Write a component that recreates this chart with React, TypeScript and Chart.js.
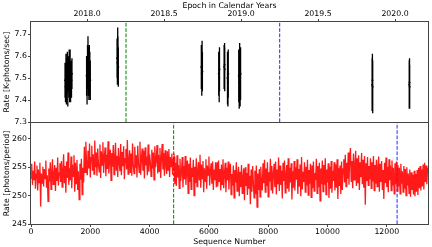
import React, { useEffect, useRef } from "react";
import { Chart, registerables } from "chart.js";
Chart.register(...registerables);

// ---------- Top panel: rate vs epoch (with error bars) ----------
const EPOCHS = [
  2017.857, 2017.860, 2017.863, 2017.866, 2017.869, 2017.872, 2017.875, 2017.878, 2017.881, 2017.884, 2017.887, 2017.890, 2017.893, 2017.896, 2017.899, 2017.902,
  2017.997, 2018.000, 2018.003, 2018.006, 2018.009, 2018.012, 2018.015, 2018.018, 2018.021,
  2018.195, 2018.197, 2018.199, 2018.201, 2018.203,
  2018.742, 2018.745, 2018.747, 2018.749,
  2018.855, 2018.858, 2018.860,
  2018.890, 2018.893, 2018.894,
  2018.912, 2018.915, 2018.917,
  2018.985, 2018.988, 2018.991, 2018.994, 2018.997,
  2019.851, 2019.853, 2019.855,
  2020.092, 2020.094, 2020.095,
];
const RATES = [
  7.49, 7.46, 7.53, 7.47, 7.51, 7.55, 7.45, 7.50, 7.52, 7.56, 7.48, 7.54, 7.47, 7.51, 7.49, 7.52,
  7.51, 7.48, 7.55, 7.59, 7.53, 7.50, 7.56, 7.52, 7.49,
  7.59, 7.57, 7.63, 7.60, 7.55,
  7.55, 7.52, 7.57, 7.53,
  7.52, 7.50, 7.54,
  7.55, 7.56, 7.54,
  7.50, 7.48, 7.52,
  7.51, 7.48, 7.54, 7.50, 7.52,
  7.47, 7.49, 7.46,
  7.47, 7.48, 7.46,
];
const ERRS = [
  0.08, 0.07, 0.08, 0.09, 0.08, 0.07, 0.08, 0.09, 0.08, 0.07, 0.09, 0.09, 0.08, 0.07, 0.08, 0.07,
  0.09, 0.10, 0.10, 0.10, 0.11, 0.10, 0.09, 0.10, 0.09,
  0.09, 0.10, 0.10, 0.09, 0.09,
  0.10, 0.10, 0.10, 0.09,
  0.10, 0.11, 0.10,
  0.10, 0.10, 0.10,
  0.12, 0.11, 0.11,
  0.12, 0.12, 0.12, 0.13, 0.12,
  0.12, 0.12, 0.12,
  0.11, 0.11, 0.10,
];
const EPOCH_TICKS = [2018.0, 2018.5, 2019.0, 2019.5, 2020.0];
const RATE_TICKS = [7.3, 7.4, 7.5, 7.6, 7.7];
const EPOCH_GREEN = 2018.253;
const EPOCH_BLUE = 2019.251;

// ---------- Bottom panel: rate vs sequence number ----------
const SEQ_STEP = 25;
const SEQ_RATES = [
  // 0 - 1775
  253.1, 255.6, 251.9, 254.4, 252.7, 256.0, 251.2, 253.8, 255.3, 250.9, 254.6, 252.3, 255.8, 248.1, 253.9, 252.2, 255.1, 251.6, 254.7, 253.0,
  256.2, 251.4, 253.6, 249.0, 254.8, 252.5, 255.9, 251.1, 254.2, 256.4, 252.0, 253.5, 255.4, 250.8, 254.9, 252.6, 256.7, 251.8, 254.0, 255.7,
  252.4, 256.1, 251.5, 254.5, 257.3, 252.2, 255.2, 250.5, 256.0, 253.1, 257.6, 251.9, 254.8, 252.7, 256.9, 251.3, 255.5, 253.4, 257.1, 250.7,
  255.8, 252.1, 256.3, 251.0, 254.3, 249.3, 255.6, 252.8, 256.5, 250.2, 254.9, 252.3,
  // 1800 - 4800
  258.6, 254.1, 259.5, 255.3, 253.6, 257.9, 254.8, 259.2, 253.2, 256.7, 258.8, 254.4, 257.3, 253.8, 259.7, 255.0, 257.6, 253.5, 258.3, 255.6,
  254.2, 259.0, 253.1, 257.8, 255.4, 259.4, 254.0, 256.9, 258.5, 253.4, 257.2, 254.7, 259.6, 253.9, 256.4, 258.1, 252.7, 257.5, 255.1, 258.9,
  253.7, 256.8, 259.3, 254.5, 257.0, 253.3, 258.4, 255.8, 254.3, 259.1, 253.6, 257.7, 255.2, 258.7, 252.9, 256.5, 258.2, 254.6, 259.8, 253.8,
  256.2, 258.0, 254.0, 257.4, 253.5, 259.2, 255.5, 253.9, 258.6, 254.9, 257.1, 253.2, 258.8, 255.7, 254.1, 259.5, 253.7, 256.6, 258.3, 254.4,
  257.9, 253.0, 258.5, 255.3, 256.9, 253.6, 259.0, 254.2, 257.3, 255.9, 253.4, 258.1, 254.8, 257.6, 252.8, 258.7, 255.0, 256.3, 258.9, 253.9,
  257.2, 254.3, 258.4, 253.1, 256.7, 259.1, 254.6, 257.5, 253.5, 258.0, 255.4, 253.8, 257.8, 254.5, 258.2, 253.3, 256.8, 255.1, 257.4, 253.7,
  256.4,
  // 4825 - 6250
  256.9, 252.0, 255.8, 251.7, 257.1, 253.2, 255.4, 251.3, 256.5, 252.6, 254.1, 256.8, 251.5, 255.2, 252.9, 257.0, 251.9, 254.7, 256.2, 250.4,
  255.6, 252.4, 256.7, 251.1, 254.9, 253.3, 256.3, 250.0, 255.1, 252.2, 256.6, 251.6, 254.4, 255.9, 252.8, 257.2, 251.4, 255.5, 253.0, 256.1,
  250.6, 254.8, 252.5, 256.4, 251.2, 255.3, 253.6, 256.9, 251.8, 254.2, 255.7, 252.1, 256.0, 251.0, 254.6, 252.7, 255.9, 251.5,
  // 6275 - 7775
  255.9, 251.6, 256.2, 252.4, 254.7, 250.9, 255.5, 252.0, 256.4, 251.3, 253.9, 255.8, 250.6, 254.9, 252.7, 256.0, 251.1, 254.3, 255.6, 250.2,
  253.8, 251.8, 255.3, 249.6, 254.5, 252.3, 255.9, 250.8, 253.6, 255.1, 249.9, 254.2, 251.5, 255.4, 250.4, 253.3, 254.8, 249.2, 255.0, 251.7,
  254.0, 250.1, 255.6, 251.2, 253.5, 248.5, 254.6, 250.7, 255.2, 252.2, 249.6, 254.4, 250.3, 255.3, 248.0, 253.9, 251.0, 254.7, 249.8, 255.1,
  251.9,
  // 7800 - 10525
  250.9, 255.7, 252.2, 256.3, 250.6, 254.8, 251.7, 255.9, 249.8, 254.1, 252.5, 256.5, 251.0, 255.2, 250.4, 253.9, 255.6, 251.5, 256.0, 250.2,
  254.6, 252.0, 256.7, 250.8, 255.3, 251.9, 254.4, 249.5, 255.8, 252.6, 256.2, 250.5, 253.6, 255.4, 251.2, 256.6, 250.7, 254.9, 252.3, 255.7,
  249.3, 254.3, 251.4, 256.1, 250.9, 255.0, 252.8, 256.4, 250.3, 254.7, 251.6, 255.5, 249.9, 256.8, 251.1, 254.2, 252.4, 255.9, 250.6, 255.1,
  251.8, 256.3, 250.1, 254.5, 252.1, 255.6, 249.7, 255.3, 251.3, 256.0, 250.8, 254.0, 252.7, 256.5, 250.4, 255.2, 251.5, 255.8, 249.1, 254.8,
  252.0, 256.2, 250.7, 255.4, 251.9, 256.6, 250.2, 254.6, 252.3, 255.7, 249.6, 255.1, 251.2, 256.1, 250.5, 254.4, 252.6, 255.9, 250.9, 255.5,
  251.4, 256.4, 249.4, 254.9, 251.7, 255.3, 250.3, 256.0, 251.0, 254.7,
  // 10550 - 11425
  256.4, 252.3, 257.2, 251.6, 255.8, 253.0, 257.6, 251.9, 256.9, 258.4, 252.5, 256.1, 251.3, 257.4, 252.8, 255.5, 257.9, 251.7, 256.6, 252.2,
  257.1, 251.0, 255.9, 253.3, 257.5, 252.0, 256.3, 251.4, 257.0, 248.4, 255.7, 252.6, 256.8, 251.8, 255.2, 252.9,
  // 11450 - 12325
  256.6, 251.3, 255.9, 252.5, 257.0, 250.9, 255.4, 252.1, 256.3, 251.6, 254.8, 256.9, 250.7, 255.6, 252.4, 256.1, 251.0, 254.5, 249.4, 255.8,
  252.2, 256.7, 251.5, 255.1, 250.6, 256.4, 252.7, 255.3, 250.9, 256.2, 251.8, 254.9, 250.3, 255.7, 252.0, 256.0,
  // 12350 - 13375
  250.8, 255.4, 251.6, 254.9, 250.3, 255.6, 252.1, 254.3, 250.6, 255.2, 251.2, 254.7, 250.0, 255.0, 251.8, 253.9, 250.4, 254.6, 249.8, 254.1,
  251.0, 253.7, 250.2, 254.4, 249.9, 253.8, 250.7, 254.5, 250.1, 254.9, 251.3, 255.2, 250.9, 254.6, 251.6, 255.5, 251.1, 255.8, 252.4, 255.3,
  252.0, 254.9,
];
const SEQ_TICKS = [0, 2000, 4000, 6000, 8000, 10000, 12000];
const PERIOD_TICKS = [245, 250, 255, 260];
const SEQ_GREEN = 4811;
const SEQ_BLUE = 12348;

const FONT = { family: "'DejaVu Sans', sans-serif", size: 7.8, lineHeight: 1.2 };
const SPINE = "#444";
const GREEN = "rgb(0,128,0)";
const BLUE = "rgb(40,40,255)";

const frame = {
  id: "frame",
  afterDatasetsDraw(chart: any) {
    const { ctx, chartArea: a } = chart;
    ctx.save();
    ctx.strokeStyle = SPINE;
    ctx.lineWidth = 1;
    ctx.strokeRect(
      Math.round(a.left) - 0.5,
      Math.round(a.top) - 0.5,
      Math.round(a.right - a.left) + 1,
      Math.round(a.bottom - a.top) + 1
    );
    ctx.restore();
  },
};

function axisBase(ticksArr: number[], fmt: (v: number) => string, pad: number) {
  return {
    type: "linear" as const,
    afterBuildTicks: (s: any) => {
      s.ticks = ticksArr.map((v) => ({ value: v }));
    },
    ticks: {
      callback: (v: any) => fmt(Number(v)),
      color: "#000",
      font: FONT,
      padding: pad,
      maxRotation: 0,
      autoSkip: false,
    },
    grid: { drawOnChartArea: false, drawTicks: true, tickLength: 3, color: SPINE },
    border: { display: false },
  };
}

export default function App() {
  const topRef = useRef<HTMLCanvasElement>(null);
  const botRef = useRef<HTMLCanvasElement>(null);

  useEffect(() => {
    const errSegs: any[] = [];
    EPOCHS.forEach((e, i) => {
      errSegs.push({ x: e, y: RATES[i] - ERRS[i] });
      errSegs.push({ x: e, y: RATES[i] + ERRS[i] });
      errSegs.push({ x: e, y: null });
    });
    const pts = EPOCHS.map((e, i) => ({ x: e, y: RATES[i] }));
    const topMin = 7.3, topMax = 7.755;

    const top = new Chart(topRef.current!, {
      type: "scatter",
      data: {
        datasets: [
          { data: errSegs, showLine: true, spanGaps: false, borderColor: "#000", borderWidth: 1.3, pointRadius: 0 },
          { data: pts, pointRadius: 1, pointBackgroundColor: "#000", pointBorderWidth: 0 },
          { data: [{ x: EPOCH_GREEN, y: topMin }, { x: EPOCH_GREEN, y: topMax }], showLine: true, borderColor: GREEN, borderWidth: 1, borderDash: [3.7, 1.6], pointRadius: 0 },
          { data: [{ x: EPOCH_BLUE, y: topMin }, { x: EPOCH_BLUE, y: topMax }], showLine: true, borderColor: BLUE, borderWidth: 1, borderDash: [3.7, 1.6], pointRadius: 0 },
        ],
      },
      options: {
        animation: false,
        responsive: false,
        layout: { padding: { left: 0, right: 4, top: 0, bottom: 8 } },
        plugins: { legend: { display: false }, tooltip: { enabled: false } },
        scales: {
          x: {
            ...axisBase(EPOCH_TICKS, (v) => v.toFixed(1), 0),
            position: "top",
            min: 2017.636,
            max: 2020.214,
            afterFit: (s: any) => { s.height = 22; },
            title: { display: true, text: "Epoch in Calendar Years", color: "#000", font: FONT, padding: { top: 1.5, bottom: 0 } },
          },
          y: {
            ...axisBase(RATE_TICKS, (v) => v.toFixed(1), 1),
            min: topMin,
            max: topMax,
            afterFit: (s: any) => { s.width = 31; },
            title: { display: true, text: "Rate [K-photons/sec]", color: "#000", font: FONT, padding: { top: 2.7, bottom: 0 } },
          },
        } as any,
      },
      plugins: [frame],
    });

    const seqPts = SEQ_RATES.map((v, i) => ({ x: i * SEQ_STEP, y: v }));
    const botMin = 245, botMax = 262.8;
    const bot = new Chart(botRef.current!, {
      type: "scatter",
      data: {
        datasets: [
          { data: seqPts, showLine: true, borderColor: "rgba(255,0,0,0.9)", borderWidth: 1.3, pointRadius: 0 },
          { data: [{ x: SEQ_GREEN, y: botMin }, { x: SEQ_GREEN, y: botMax }], showLine: true, borderColor: GREEN, borderWidth: 1, borderDash: [3.7, 1.6], pointRadius: 0 },
          { data: [{ x: SEQ_BLUE, y: botMin }, { x: SEQ_BLUE, y: botMax }], showLine: true, borderColor: BLUE, borderWidth: 1, borderDash: [3.7, 1.6], pointRadius: 0 },
        ],
      },
      options: {
        animation: false,
        responsive: false,
        layout: { padding: { left: 0, right: 4, top: 8, bottom: 0 } },
        plugins: { legend: { display: false }, tooltip: { enabled: false } },
        scales: {
          x: {
            ...axisBase(SEQ_TICKS, (v) => String(v), 0.5),
            position: "bottom",
            min: 0,
            max: 13390,
            afterFit: (s: any) => { s.height = 23; },
            title: { display: true, text: "Sequence Number", color: "#000", font: FONT, padding: { top: 0, bottom: 0.7 } },
          },
          y: {
            ...axisBase(PERIOD_TICKS, (v) => String(v), 1),
            min: botMin,
            max: botMax,
            afterFit: (s: any) => { s.width = 31; },
            title: { display: true, text: "Rate [photons/period]", color: "#000", font: FONT, padding: { top: 2.7, bottom: 0 } },
          },
        } as any,
      },
      plugins: [frame],
    });

    return () => {
      top.destroy();
      bot.destroy();
    };
  }, []);

  return (
    <div style={{ position: "absolute", left: 0, top: 0, width: 432, height: 247, background: "#fff" }}>
      <canvas ref={topRef} width={432} height={130} style={{ position: "absolute", left: 0, top: 0, width: 432, height: 130 }} />
      <canvas ref={botRef} width={432} height={132} style={{ position: "absolute", left: 0, top: 115, width: 432, height: 132 }} />
    </div>
  );
}
